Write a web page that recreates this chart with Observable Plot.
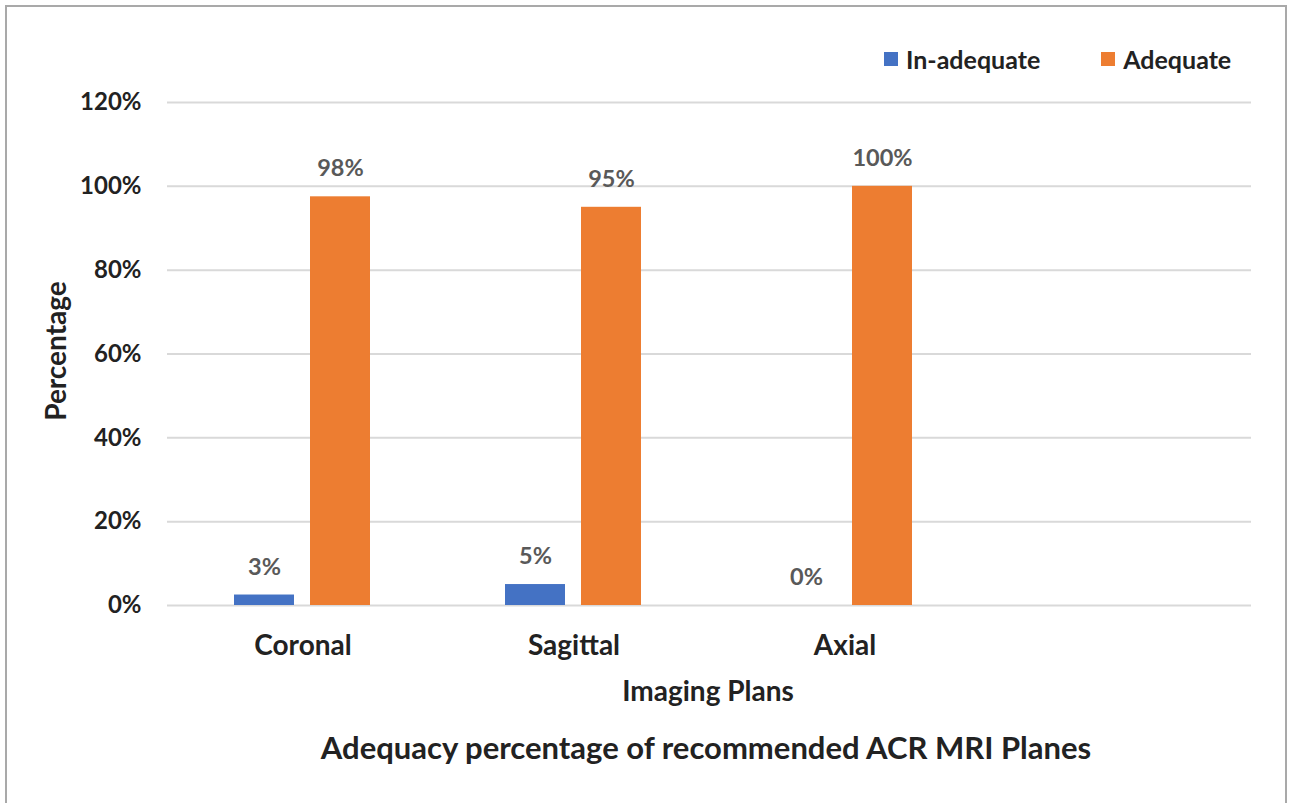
<!DOCTYPE html>
<html><head><meta charset="utf-8">
<script src="https://cdn.jsdelivr.net/npm/d3@7"></script>
<script src="https://cdn.jsdelivr.net/npm/@observablehq/plot@0.6"></script>
<style>
body{margin:0;background:#fff;font-family:Lato,"Open Sans",sans-serif;}
#wrap{position:relative;width:1290px;height:803px;overflow:hidden;background:#fff;}
#frame{position:absolute;left:5px;top:5px;width:1282px;height:820px;border:2px solid #a9a9a9;box-sizing:border-box;pointer-events:none}
#chart{position:absolute;left:0;top:0}
.lab{position:absolute;font-weight:bold;color:#222;white-space:nowrap}
#legend{position:absolute;left:884px;top:44px;width:400px;display:flex;align-items:center;font-weight:bold;font-size:25px;color:#222;white-space:nowrap}
#legend .sw{width:14px;height:14px;display:inline-block;margin-right:8px;flex-shrink:0}
#legend .item{display:flex;align-items:center;flex-shrink:0;white-space:nowrap}
#legend .item + .item{margin-left:61px}
</style></head>
<body>
<div id="wrap">
  <div id="chart"></div>
  <div id="legend"></div>
  <div class="lab" id="ylab" style="left:55px;top:351px;font-size:28px;transform:translate(-50%,-50%) rotate(-90deg)">Percentage</div>
  <div class="lab" id="xlab" style="left:708px;top:690px;font-size:28px;transform:translate(-50%,-50%)">Imaging Plans</div>
  <div class="lab" id="title" style="left:706px;top:747px;font-size:31px;transform:translate(-50%,-50%)">Adequacy percentage of recommended ACR MRI Planes</div>
  <div id="frame"></div>
</div>
<script>
const categories = ["Coronal", "Sagittal", "Axial", " "];
const series = ["In-adequate", "Adequate"];
const colors = ["#4472C4", "#ED7D31"];
const inadequate = [2.5, 5, 0];
const adequate = [97.5, 95, 100];
const inadequateLabels = ["3%", "5%", "0%"];
const adequateLabels = ["98%", "95%", "100%"];
const yTicks = [0, 20, 40, 60, 80, 100, 120];

const data = [];
categories.slice(0, 3).forEach((c, i) => {
  data.push({cat: c, series: series[0], value: inadequate[i], label: inadequateLabels[i]});
  data.push({cat: c, series: series[1], value: adequate[i], label: adequateLabels[i]});
});
const grid = [];
categories.forEach(c => yTicks.forEach(t => grid.push({cat: c, tick: t})));

const chart = Plot.plot({
  width: 1290, height: 803,
  marginLeft: 166, marginRight: 39, marginTop: 102, marginBottom: 198,
  style: {fontFamily: "Lato, 'Open Sans', sans-serif", background: "transparent", overflow: "visible"},
  fx: {domain: categories, padding: 0, label: null},
  x: {domain: series, paddingInner: 0.208, paddingOuter: 0.865, axis: null},
  y: {domain: [0, 120], label: null},
  color: {domain: series, range: colors},
  marks: [
    Plot.ruleY(grid, {fx: "cat", y: "tick", stroke: "#d9d9d9", strokeWidth: 2}),
    Plot.barY(data, {fx: "cat", x: "series", y: "value", fill: "series"}),
    Plot.text(data, {fx: "cat", x: "series", y: "value", text: "label", dy: -28, fill: "#595959", fontSize: 23.5, fontWeight: "bold"}),
    Plot.axisY(yTicks, {tickSize: 0, tickPadding: 26, tickFormat: d => d + "%", fontSize: 24, fontWeight: "bold", fill: "#222", label: null}),
    Plot.axisFx({anchor: "bottom", tickSize: 0, tickPadding: 30, fontSize: 28, fontWeight: "bold", fill: "#222", label: null})
  ]
});
document.getElementById("chart").appendChild(chart);

const legend = document.getElementById("legend");
series.forEach((s, i) => {
  const it = document.createElement("div");
  it.className = "item";
  const sw = document.createElement("span");
  sw.className = "sw"; sw.style.background = colors[i];
  it.appendChild(sw);
  it.appendChild(document.createTextNode(s));
  legend.appendChild(it);
});
</script>
</body></html>
